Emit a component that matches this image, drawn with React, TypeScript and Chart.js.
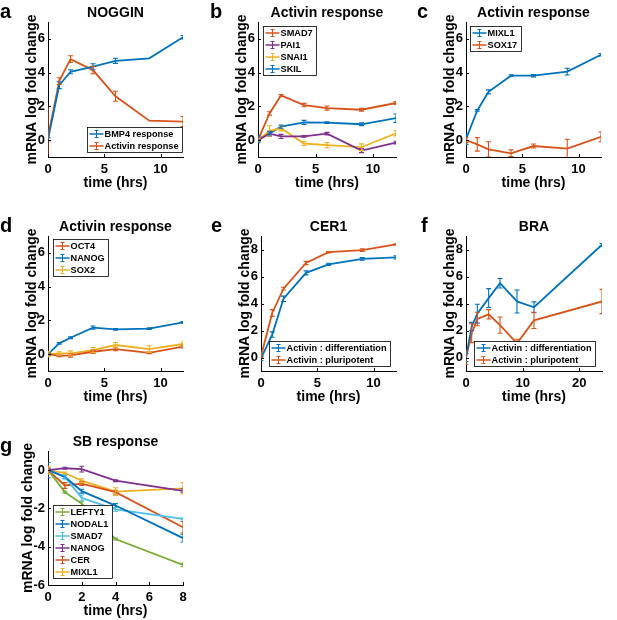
import React, { useEffect, useRef } from 'react';
import { Chart, registerables } from 'chart.js';

Chart.register(...registerables);

const FONT = "'Liberation Sans', Arial, Helvetica, sans-serif";
const BLUE = '#0072BD';
const ORANGE = '#D95319';
const YELLOW = '#EDB120';
const PURPLE = '#7E2F8E';
const GREEN = '#77AC30';
const CYAN = '#4DBEEE';

// ---- time points ----
const times12 = [0, 1, 2, 4, 6, 9, 12];
const times24 = [0, 1, 2, 4, 6, 9, 12, 24];
const times8 = [0, 1, 2, 4, 8];

// ---- tick labels ----
const xTicks12 = [0, 5, 10];
const xTicks24 = [0, 10, 20];
const xTicks8 = [0, 2, 4, 6, 8];
const yTicks7 = [0, 2, 4, 6];
const yTicks9 = [0, 2, 4, 6, 8];
const yTicksG = [-6, -4, -2, 0];

// ---- a: NOGGIN ----
const nogginBmp4 = [0.05, 3.25, 4.05, 4.35, 4.7, 4.85, 6.1];
const nogginBmp4Err = [0.1, 0.2, 0.12, 0.18, 0.15, 0, 0.1];
const nogginActivin = [0.2, 3.5, 4.8, 4.15, 2.6, 1.15, 1.1];
const nogginActivinErr = [1.8, 0.2, 0.2, 0.22, 0.3, 0, 0.3];

// ---- b: Activin response ----
const bSmad7 = [0, 1.58, 2.65, 2.08, 1.9, 1.8, 2.2];
const bSmad7Err = [0.05, 0.1, 0.05, 0.1, 0.12, 0.08, 0.08];
const bPai1 = [0, 0.38, 0.22, 0.22, 0.38, -0.62, -0.15];
const bPai1Err = [0.05, 0.15, 0.12, 0.05, 0.08, 0.12, 0.08];
const bSnai1 = [0, 0.55, 0.7, -0.2, -0.3, -0.42, 0.4];
const bSnai1Err = [0.1, 0.3, 0.15, 0.12, 0.15, 0.2, 0.15];
const bSkil = [0.05, 0.4, 0.8, 1.05, 1.04, 0.94, 1.3];
const bSkilErr = [0.2, 0.1, 0.1, 0.12, 0.05, 0.08, 0.25];

// ---- c: Activin response ----
const cMixl1 = [0.05, 1.76, 2.86, 3.82, 3.82, 4.06, 5.06];
const cMixl1Err = [0.3, 0.05, 0.12, 0.05, 0.07, 0.2, 0.07];
const cSox17 = [0, -0.25, -0.55, -0.78, -0.35, -0.5, 0.2];
const cSox17Err = [0.15, 0.4, 0.45, 0.2, 0.12, 0.55, 0.3];

// ---- d: Activin response ----
const dOct4 = [0, -0.1, -0.08, 0.14, 0.3, 0.08, 0.44];
const dOct4Err = [0.1, 0.05, 0.1, 0.1, 0.1, 0.05, 0.08];
const dNanog = [0, 0.64, 0.97, 1.57, 1.47, 1.51, 1.88];
const dNanogErr = [0.05, 0.05, 0.05, 0.1, 0.05, 0.05, 0.05];
const dSox2 = [0, 0.04, 0.04, 0.24, 0.54, 0.3, 0.6];
const dSox2Err = [0.15, 0.1, 0.15, 0.15, 0.15, 0.2, 0.12];

// ---- e: CER1 ----
const eDiff = [-0.07, 1.7, 4.35, 6.27, 6.9, 7.3, 7.42];
const eDiffErr = [0.15, 0.2, 0.2, 0.15, 0.08, 0.1, 0.12];
const ePluri = [0.1, 3.3, 5.1, 7.0, 7.8, 7.95, 8.38];
const ePluriErr = [0.1, 0.25, 0.1, 0.12, 0.05, 0.1, 0.05];

// ---- f: BRA ----
const fDiff = [0, 2.3, 3.25, 4.4, 5.5, 4.15, 3.72, 8.35];
const fDiffErr = [0.3, 0.3, 0.7, 0.7, 0.35, 0.85, 0.4, 0.1];
const fPluri = [0, 1.8, 2.85, 3.2, 2.4, 1.05, 2.75, 4.15];
const fPluriErr = [0.5, 0.7, 0.5, 0.35, 0.6, 0.3, 0.6, 0.9];

// ---- g: SB response ----
const gLefty1 = [0, -1.15, -1.75, -3.6, -4.95];
const gLefty1Err = [0.1, 0.05, 0.1, 0.05, 0.1];
const gNodal1 = [0, -0.35, -1.1, -1.85, -3.55];
const gNodal1Err = [0.4, 0.1, 0.1, 0.1, 0.2];
const gSmad7 = [0, -0.35, -1.45, -2.05, -2.55];
const gSmad7Err = [0.1, 0.1, 0.15, 0.1, 0.05];
const gNanog = [0, 0.1, 0.05, -0.55, -1.08];
const gNanogErr = [0.1, 0.05, 0.15, 0.05, 0.1];
const gCer = [0, -0.8, -0.7, -1.15, -2.98];
const gCerErr = [0.1, 0.15, 0.1, 0.1, 0.3];
const gMixl1 = [0, -0.15, -0.55, -1.12, -0.95];
const gMixl1Err = [0.2, 0.05, 0.1, 0.2, 0.3];

type Series = { label: string; color: string; x: number[]; y: number[]; err: number[] };
type PanelDef = {
  letter: string;
  letterPos: [number, number];
  title: string;
  canvas: [number, number, number, number];
  area: [number, number, number, number];
  yLabelGap: number;
  xMin: number; xMax: number; xTicks: number[];
  yMin: number; yMax: number; yTicks: number[];
  legend: { corner: string; dx: number; dy: number };
  series: Series[];
};

const panels: PanelDef[] = [
  {
    letter: 'a', letterPos: [0, 1], title: 'NOGGIN',
    canvas: [0, 0, 205, 200], area: [48, 22, 183, 157], yLabelGap: 16,
    xMin: 0, xMax: 12, xTicks: xTicks12, yMin: -1, yMax: 7, yTicks: yTicks7,
    legend: { corner: 'se', dx: 1, dy: 5 },
    series: [
      { label: 'BMP4 response', color: BLUE, x: times12, y: nogginBmp4, err: nogginBmp4Err },
      { label: 'Activin response', color: ORANGE, x: times12, y: nogginActivin, err: nogginActivinErr },
    ],
  },
  {
    letter: 'b', letterPos: [210, 1], title: 'Activin response',
    canvas: [205, 0, 205, 200], area: [258, 22, 396, 157], yLabelGap: 16,
    xMin: 0, xMax: 12, xTicks: xTicks12, yMin: -1, yMax: 7, yTicks: yTicks7,
    legend: { corner: 'nw', dx: 5, dy: 4 },
    series: [
      { label: 'SMAD7', color: ORANGE, x: times12, y: bSmad7, err: bSmad7Err },
      { label: 'PAI1', color: PURPLE, x: times12, y: bPai1, err: bPai1Err },
      { label: 'SNAI1', color: YELLOW, x: times12, y: bSnai1, err: bSnai1Err },
      { label: 'SKIL', color: BLUE, x: times12, y: bSkil, err: bSkilErr },
    ],
  },
  {
    letter: 'c', letterPos: [417, 1], title: 'Activin response',
    canvas: [410, 0, 207, 200], area: [466, 22, 601, 157], yLabelGap: 16,
    xMin: 0, xMax: 12, xTicks: xTicks12, yMin: -1, yMax: 7, yTicks: yTicks7,
    legend: { corner: 'nw', dx: 4, dy: 4 },
    series: [
      { label: 'MIXL1', color: BLUE, x: times12, y: cMixl1, err: cMixl1Err },
      { label: 'SOX17', color: ORANGE, x: times12, y: cSox17, err: cSox17Err },
    ],
  },
  {
    letter: 'd', letterPos: [0, 215], title: 'Activin response',
    canvas: [0, 200, 205, 211], area: [48, 236, 183, 371], yLabelGap: 16,
    xMin: 0, xMax: 12, xTicks: xTicks12, yMin: -1, yMax: 7, yTicks: yTicks7,
    legend: { corner: 'nw', dx: 5, dy: 3 },
    series: [
      { label: 'OCT4', color: ORANGE, x: times12, y: dOct4, err: dOct4Err },
      { label: 'NANOG', color: BLUE, x: times12, y: dNanog, err: dNanogErr },
      { label: 'SOX2', color: YELLOW, x: times12, y: dSox2, err: dSox2Err },
    ],
  },
  {
    letter: 'e', letterPos: [211, 215], title: 'CER1',
    canvas: [205, 200, 205, 211], area: [261, 236, 396, 371], yLabelGap: 16,
    xMin: 0, xMax: 12, xTicks: xTicks12, yMin: -1, yMax: 9, yTicks: yTicks9,
    legend: { corner: 'se', dx: 6, dy: 5 },
    series: [
      { label: 'Activin : differentiation', color: BLUE, x: times12, y: eDiff, err: eDiffErr },
      { label: 'Activin : pluripotent', color: ORANGE, x: times12, y: ePluri, err: ePluriErr },
    ],
  },
  {
    letter: 'f', letterPos: [421, 215], title: 'BRA',
    canvas: [410, 200, 207, 211], area: [466, 236, 602, 371], yLabelGap: 16,
    xMin: 0, xMax: 24, xTicks: xTicks24, yMin: -1, yMax: 9, yTicks: yTicks9,
    legend: { corner: 'se', dx: 7, dy: 5 },
    series: [
      { label: 'Activin : differentiation', color: BLUE, x: times24, y: fDiff, err: fDiffErr },
      { label: 'Activin : pluripotent', color: ORANGE, x: times24, y: fPluri, err: fPluriErr },
    ],
  },
  {
    letter: 'g', letterPos: [0, 435], title: 'SB response',
    canvas: [0, 405, 205, 215], area: [48, 451, 183, 585], yLabelGap: 20,
    xMin: 0, xMax: 8, xTicks: xTicks8, yMin: -6, yMax: 1, yTicks: yTicksG,
    legend: { corner: 'sw', dx: 5, dy: 7 },
    series: [
      { label: 'LEFTY1', color: GREEN, x: times8, y: gLefty1, err: gLefty1Err },
      { label: 'NODAL1', color: BLUE, x: times8, y: gNodal1, err: gNodal1Err },
      { label: 'SMAD7', color: CYAN, x: times8, y: gSmad7, err: gSmad7Err },
      { label: 'NANOG', color: PURPLE, x: times8, y: gNanog, err: gNanogErr },
      { label: 'CER', color: ORANGE, x: times8, y: gCer, err: gCerErr },
      { label: 'MIXL1', color: YELLOW, x: times8, y: gMixl1, err: gMixl1Err },
    ],
  },
];

const CAP = 2.5;
const LEGEND_FONT = 9.2;

const errorBarPlugin = {
  id: 'errorBars',
  afterDatasetsDraw(chart: any) {
    const ctx = chart.ctx;
    const ys = chart.scales.y;
    const a = chart.chartArea;
    ctx.save();
    ctx.beginPath();
    ctx.rect(a.left, a.top, a.right - a.left, a.bottom - a.top);
    ctx.clip();
    chart.data.datasets.forEach((ds: any, i: number) => {
      const meta = chart.getDatasetMeta(i);
      ctx.strokeStyle = ds.borderColor;
      ctx.lineWidth = 1.1;
      meta.data.forEach((el: any, j: number) => {
        const e = ds.errors ? ds.errors[j] : 0;
        if (!e) return;
        const v = ds.data[j].y;
        const x = el.x;
        const y1 = ys.getPixelForValue(v - e);
        const y2 = ys.getPixelForValue(v + e);
        ctx.beginPath();
        ctx.moveTo(x, y1); ctx.lineTo(x, y2);
        ctx.moveTo(x - CAP, y1); ctx.lineTo(x + CAP, y1);
        ctx.moveTo(x - CAP, y2); ctx.lineTo(x + CAP, y2);
        ctx.stroke();
      });
    });
    ctx.restore();
  },
};

const innerTicksPlugin = {
  id: 'innerTicks',
  afterDraw(chart: any) {
    const ctx = chart.ctx;
    const a = chart.chartArea;
    const xs = chart.scales.x;
    const ys = chart.scales.y;
    ctx.save();
    ctx.strokeStyle = '#000';
    ctx.lineWidth = 1;
    ctx.beginPath();
    xs.ticks.forEach((t: any) => {
      const px = Math.round(xs.getPixelForValue(t.value)) + 0.5;
      ctx.moveTo(px, a.bottom); ctx.lineTo(px, a.bottom - 3);
    });
    ys.ticks.forEach((t: any) => {
      const py = Math.round(ys.getPixelForValue(t.value)) + 0.5;
      ctx.moveTo(a.left, py); ctx.lineTo(a.left + 3, py);
    });
    ctx.stroke();
    ctx.restore();
  },
};

const insetLegendPlugin = {
  id: 'insetLegend',
  afterDraw(chart: any, _args: any, opts: any) {
    if (!opts || !opts.corner) return;
    const ctx = chart.ctx;
    const a = chart.chartArea;
    ctx.save();
    ctx.font = `bold ${LEGEND_FONT}px ${FONT}`;
    const items = chart.data.datasets.map((ds: any) => ({ text: ds.label, color: ds.borderColor }));
    const textW = Math.max(...items.map((it: any) => ctx.measureText(it.text).width));
    const rowH = 12;
    const w = Math.round(17 + textW + 4);
    const h = items.length * rowH + 1;
    const x = Math.round(opts.corner.includes('w') ? a.left + opts.dx : a.right - opts.dx - w) + 0.5;
    const y = Math.round(opts.corner.includes('n') ? a.top + opts.dy : a.bottom - opts.dy - h) + 0.5;
    ctx.fillStyle = '#fff';
    ctx.fillRect(x, y, w, h);
    ctx.strokeStyle = '#000';
    ctx.lineWidth = 0.8;
    ctx.strokeRect(x, y, w, h);
    items.forEach((it: any, i: number) => {
      const cy = y + 0.5 + rowH * (i + 0.5);
      ctx.strokeStyle = it.color;
      ctx.lineWidth = 1.5;
      ctx.beginPath();
      ctx.moveTo(x + 2, cy); ctx.lineTo(x + 16, cy);
      ctx.stroke();
      ctx.lineWidth = 1;
      ctx.beginPath();
      ctx.moveTo(x + 9, cy - 3.5); ctx.lineTo(x + 9, cy + 3.5);
      ctx.moveTo(x + 7, cy - 3.5); ctx.lineTo(x + 11, cy - 3.5);
      ctx.moveTo(x + 7, cy + 3.5); ctx.lineTo(x + 11, cy + 3.5);
      ctx.stroke();
      ctx.fillStyle = '#000';
      ctx.textBaseline = 'middle';
      ctx.textAlign = 'left';
      ctx.fillText(it.text, x + 17, cy + 0.5);
    });
    ctx.restore();
  },
};

function Panel({ p }: { p: PanelDef }) {
  const ref = useRef<HTMLCanvasElement>(null);
  const [cx, cy, cw, ch] = p.canvas;
  useEffect(() => {
    const [al, at, ar, ab] = p.area;
    const xAxisH = cy + ch - ab;
    const yAxisW = al - cx;
    const tickFont = { family: FONT, size: 13, weight: 'bold' as const };
    const labelFont = { family: FONT, size: 14, weight: 'bold' as const };
    const chart = new Chart(ref.current as HTMLCanvasElement, {
      type: 'line',
      data: {
        datasets: p.series.map((s) => ({
          label: s.label,
          data: s.x.map((t, i) => ({ x: t, y: s.y[i] })),
          errors: s.err,
          borderColor: s.color,
          backgroundColor: s.color,
          borderWidth: 1.8,
          pointRadius: 0,
          pointHoverRadius: 0,
          tension: 0,
          fill: false,
        })) as any,
      },
      options: {
        animation: false,
        responsive: false,
        events: [],
        layout: { padding: { left: 0, top: 0, right: cx + cw - ar, bottom: 0 } },
        plugins: {
          legend: { display: false },
          tooltip: { enabled: false },
          title: {
            display: true,
            text: p.title,
            color: '#000',
            font: labelFont,
            fullSize: false,
            padding: { top: at - cy - 16.8, bottom: 0 },
          },
          insetLegend: p.legend,
        } as any,
        scales: {
          x: {
            type: 'linear',
            min: p.xMin,
            max: p.xMax,
            grid: { display: false, drawTicks: false },
            border: { display: true, color: '#000', width: 1 },
            ticks: { color: '#000', font: tickFont, padding: 5, autoSkip: false, maxRotation: 0 },
            afterBuildTicks: (s: any) => { s.ticks = p.xTicks.map((v) => ({ value: v })); },
            afterFit: (s: any) => { s.height = xAxisH; },
            title: {
              display: true,
              text: 'time (hrs)',
              color: '#000',
              font: labelFont,
              padding: { top: 0, bottom: xAxisH - 8.4 - 26 },
            },
          },
          y: {
            type: 'linear',
            min: p.yMin,
            max: p.yMax,
            grid: { display: false, drawTicks: false },
            border: { display: true, color: '#000', width: 1 },
            ticks: { color: '#000', font: tickFont, padding: 3, autoSkip: false },
            afterBuildTicks: (s: any) => { s.ticks = p.yTicks.map((v) => ({ value: v })); },
            afterFit: (s: any) => { s.width = yAxisW; },
            title: {
              display: true,
              text: 'mRNA log fold change',
              color: '#000',
              font: labelFont,
              padding: { top: yAxisW - p.yLabelGap - 8.4, bottom: 0 },
            },
          },
        },
      } as any,
      plugins: [errorBarPlugin, innerTicksPlugin, insetLegendPlugin],
    });
    return () => chart.destroy();
  }, [p]);
  return (
    <canvas
      ref={ref}
      width={cw}
      height={ch}
      style={{ position: 'absolute', left: cx, top: cy, width: cw, height: ch }}
    />
  );
}

export default function App() {
  return (
    <div
      style={{
        position: 'absolute',
        left: 0,
        top: 0,
        width: 617,
        height: 620,
        overflow: 'hidden',
        background: '#fff',
      }}
    >
      {panels.map((p) => (
        <Panel key={p.letter} p={p} />
      ))}
      {panels.map((p) => (
        <div
          key={'L' + p.letter}
          style={{
            position: 'absolute',
            left: p.letterPos[0],
            top: p.letterPos[1],
            font: `bold 20px/20px ${FONT}`,
            color: '#000',
          }}
        >
          {p.letter}
        </div>
      ))}
    </div>
  );
}
